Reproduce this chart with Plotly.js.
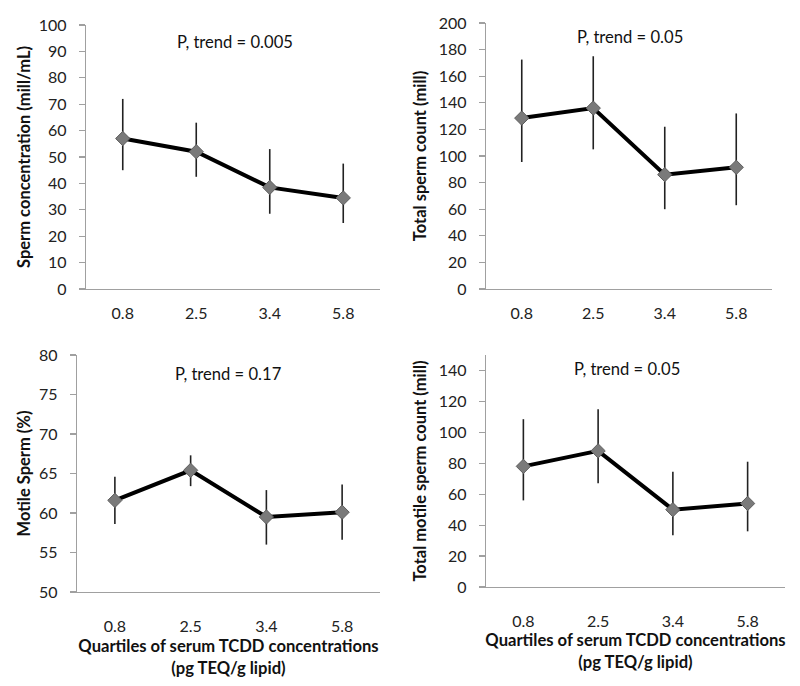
<!DOCTYPE html>
<html>
<head>
<meta charset="utf-8">
<script src="https://cdn.plot.ly/plotly-3.0.1.min.js"></script>
<style>html,body{margin:0;padding:0;background:#fff;}#chart{width:800px;height:686px;}</style>
</head>
<body>
<div id="chart"></div>
<script>
// Categories (quartile medians of serum TCDD, pg TEQ/g lipid)
const quartiles = ["0.8", "2.5", "3.4", "5.8"];

// Sperm concentration (mill/mL)
const concMean = [57, 52, 38.5, 34.5];
const concUpper = [72, 63, 53, 47.5];
const concLower = [45, 42.5, 28.5, 25];

// Total sperm count (mill)
const countMean = [128.5, 136, 86, 91.5];
const countUpper = [172.5, 175, 122, 132];
const countLower = [95.5, 105, 60, 63];

// Motile sperm (%)
const motileMean = [61.6, 65.4, 59.5, 60.1];
const motileUpper = [64.6, 67.3, 62.9, 63.6];
const motileLower = [58.6, 63.4, 56, 56.6];

// Total motile sperm count (mill)
const tmscMean = [78, 88, 50, 54];
const tmscUpper = [108.5, 115, 74.5, 81];
const tmscLower = [56, 67, 33.5, 36];

const pLabels = ["P, trend = 0.005", "P, trend = 0.05", "P, trend = 0.17", "P, trend = 0.05"];
const yTitles = ["Sperm concentration (mill/mL)", "Total sperm count (mill)", "Motile Sperm (%)", "Total motile sperm count (mill)"];
const xTitle = "Quartiles of serum TCDD concentrations<br>(pg TEQ/g lipid)";

const FONT = "Lato, 'Open Sans', sans-serif";

function trace(mean, up, lo, xa, ya) {
  return {
    type: "scatter", mode: "lines+markers",
    x: quartiles, y: mean, xaxis: xa, yaxis: ya,
    line: {color: "#000", width: 4},
    marker: {symbol: "diamond", size: 11, color: "#7a7a7a", line: {color: "#5e5e5e", width: 1}},
    error_y: {type: "data", symmetric: false,
      array: up.map((v, i) => v - mean[i]),
      arrayminus: mean.map((v, i) => v - lo[i]),
      color: "#222", thickness: 1.6, width: 0},
    showlegend: false, hoverinfo: "x+y"
  };
}

const data = [
  trace(concMean, concUpper, concLower, "x", "y"),
  trace(countMean, countUpper, countLower, "x2", "y2"),
  trace(motileMean, motileUpper, motileLower, "x3", "y3"),
  trace(tmscMean, tmscUpper, tmscLower, "x4", "y4")
];

const W = 800, H = 686;
function xd(a, b) { return [a / W, b / W]; }
function yd(top, bottom) { return [1 - bottom / H, 1 - top / H]; }

function xaxis(dom, anchor, withTitle, labelGap, titleGap) {
  const ax = {
    domain: dom, anchor: anchor, type: "category", range: [-0.5, 3.5],
    showgrid: false, zeroline: false, showline: true, linecolor: "#a0a0a0", linewidth: 1.2,
    ticks: "", ticklabelstandoff: labelGap,
    tickfont: {family: FONT, size: 16, color: "#222"}, fixedrange: true
  };
  if (withTitle) ax.title = {text: xTitle, font: {family: FONT, size: 16.6, color: "#111", weight: "bold"}, standoff: titleGap};
  return ax;
}
function yaxis(dom, anchor, range, dtick, title, titleGap) {
  return {
    domain: dom, anchor: anchor, range: range, dtick: dtick, tick0: 0,
    showgrid: false, zeroline: false, showline: true, linecolor: "#a0a0a0", linewidth: 1.2,
    ticks: "outside", ticklen: 6, tickcolor: "#a0a0a0", tickwidth: 1.2, ticklabelstandoff: 9,
    tickfont: {family: FONT, size: 16, color: "#222"},
    title: {text: title, font: {family: FONT, size: 16.5, color: "#111", weight: "bold"}, standoff: titleGap},
    fixedrange: true
  };
}

function pNote(i, x, y) {
  return {text: pLabels[i], xref: "paper", yref: "paper", x: x / W, y: 1 - y / H,
    xanchor: "center", yanchor: "middle", showarrow: false,
    font: {family: FONT, size: 16.6, color: "#111"}};
}

const layout = {
  width: W, height: H, margin: {l: 0, r: 0, t: 0, b: 0},
  paper_bgcolor: "#fff", plot_bgcolor: "#fff",
  font: {family: FONT, color: "#111"},
  xaxis: xaxis(xd(86, 380), "y", false, 10, 0),
  yaxis: yaxis(yd(25, 289), "x", [0, 100], 10, yTitles[0], 4),
  xaxis2: xaxis(xd(486, 772), "y2", false, 10, 0),
  yaxis2: yaxis(yd(23, 289), "x2", [0, 200], 20, yTitles[1], 8),
  xaxis3: xaxis(xd(77, 380), "y3", true, 20, 6),
  yaxis3: yaxis(yd(355, 592), "x3", [50, 80], 5, yTitles[2], 4),
  xaxis4: xaxis(xd(486, 785), "y4", true, 20, 4),
  yaxis4: yaxis(yd(355, 587), "x4", [0, 150], 20, yTitles[3], 8),
  annotations: [
    pNote(0, 235, 42),
    pNote(1, 630, 37.5),
    pNote(2, 227.5, 374),
    pNote(3, 627, 368.5)
  ]
};

Plotly.newPlot("chart", data, layout, {displayModeBar: false, staticPlot: true});
</script>
</body>
</html>
